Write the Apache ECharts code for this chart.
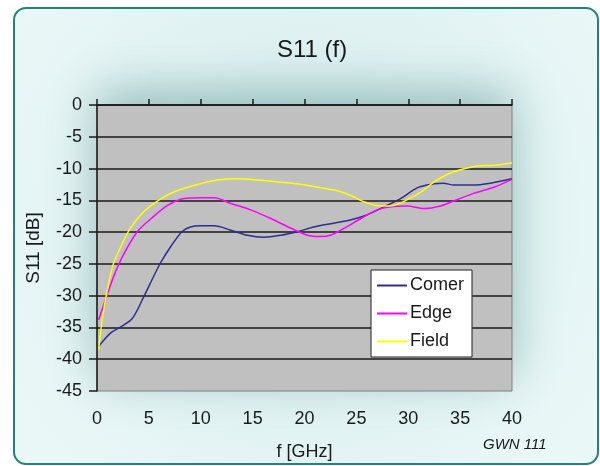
<!DOCTYPE html>
<html>
<head>
<meta charset="utf-8">
<script src="https://cdn.jsdelivr.net/npm/echarts@6/dist/echarts.min.js"></script>
<style>
html,body{margin:0;padding:0;background:#fff;}
#c{width:600px;height:466px;}
</style>
</head>
<body>
<div id="c"></div>
<script>
// ---- data ----
const seriesNames = ['Comer', 'Edge', 'Field'];
const xTicks = [0, 5, 10, 15, 20, 25, 30, 35, 40];
const yTicks = [0, -5, -10, -15, -20, -25, -30, -35, -40, -45];

const cornerF  = [0.15, 1.3, 2.3, 3.4, 4.5, 5.3, 6.1, 7.1, 8.2, 9.0, 10, 11.3, 12.9, 14.5, 16.1, 17.7, 19.4, 20.9, 22.8, 24.4, 26, 27.7, 29.3, 30.9, 32.5, 33.4, 34.4, 36.3, 37.9, 40];
const cornerDb = [-38, -35.9, -34.9, -33.6, -30.2, -27.5, -24.9, -22.3, -19.9, -19.2, -19.0, -19.0, -19.7, -20.5, -20.8, -20.5, -19.9, -19.2, -18.6, -18.1, -17.3, -16.0, -14.7, -13.0, -12.4, -12.3, -12.6, -12.6, -12.3, -11.6];

const edgeF  = [0.16, 0.8, 1.6, 2.6, 3.9, 5.2, 6.8, 8.4, 10, 11.3, 12.9, 14.8, 16.8, 18.7, 20.3, 21.5, 22.5, 23.8, 25.4, 27, 28.3, 29.9, 31.5, 33.1, 34.7, 36.3, 38.3, 40];
const edgeDb = [-33.8, -30.7, -27, -23.4, -19.9, -17.9, -15.8, -14.7, -14.6, -14.6, -15.5, -16.5, -17.9, -19.4, -20.5, -20.7, -20.5, -19.4, -17.9, -16.5, -16.0, -15.9, -16.3, -15.9, -14.9, -13.9, -12.9, -11.7];

const fieldF  = [0.16, 0.5, 1.0, 1.6, 2.3, 3.2, 4.5, 6.1, 7.7, 9.7, 11.6, 13.5, 15.5, 17.4, 19.7, 21.5, 23.2, 24.4, 25.7, 27.3, 28.6, 29.9, 31.2, 32.5, 33.8, 35, 36.7, 38.3, 40];
const fieldDb = [-38.5, -33.8, -29.1, -24.9, -22.3, -19.4, -16.8, -14.8, -13.5, -12.5, -11.8, -11.6, -11.8, -12.1, -12.5, -13.0, -13.5, -14.2, -15.2, -15.9, -15.8, -14.9, -13.7, -12.1, -10.9, -10.2, -9.6, -9.5, -9.1];

const seriesColors = ['#2e2e8e', '#ff00ff', '#ffff00'];
// ---------------------------------------

function pairs(xs, ys) { return xs.map((x, i) => [x, ys[i]]); }

const FONT = '"Liberation Sans", Arial, sans-serif';
const chart = echarts.init(document.getElementById('c'), null, {renderer: 'canvas'});

const G = {left: 97, top: 105, width: 415, height: 286};

const splitColors = yTicks.slice().reverse().map((v, i) => i === 0 ? 'rgba(0,0,0,0)' : '#1a1a1a');

chart.setOption({
  animation: false,
  backgroundColor: '#ffffff',
  graphic: [
    {
      type: 'rect', z: -10, silent: true,
      shape: {x: 14, y: 8, width: 584, height: 456, r: 12},
      style: {
        fill: new echarts.graphic.RadialGradient(0.5, 0.45, 0.75, [
          {offset: 0, color: '#d3ebeb'},
          {offset: 1, color: '#eaf7f7'}
        ]),
        stroke: '#22837c', lineWidth: 2
      }
    },
    {
      type: 'rect', z: -9, silent: true,
      shape: {x: G.left, y: G.top, width: G.width, height: G.height},
      style: {
        fill: '#c0c0c0',
        shadowBlur: 45, shadowColor: 'rgba(80,135,135,0.5)', shadowOffsetY: -14
      }
    },
    {
      type: 'text', z: 10, left: 483, top: 437,
      style: {text: 'GWN 111', font: 'italic 15px ' + FONT, fill: '#1a1a1a'}
    }
  ],
  title: {
    text: 'S11 (f)',
    left: 307, top: 33, textAlign: 'center',
    textStyle: {fontFamily: FONT, fontSize: 24, fontWeight: 'normal', color: '#1a1a1a'}
  },
  grid: {
    left: G.left, top: G.top, width: G.width, height: G.height,
    show: true, backgroundColor: '#c0c0c0', borderColor: '#808080', borderWidth: 1
  },
  legend: {
    data: seriesNames,
    orient: 'vertical',
    left: 371, top: 270,
    backgroundColor: '#ffffff',
    borderColor: '#222', borderWidth: 1,
    padding: [6, 8, 6, 6],
    icon: 'rect',
    itemWidth: 30, itemHeight: 2, itemGap: 9,
    textStyle: {fontFamily: FONT, fontSize: 18, color: '#1a1a1a', lineHeight: 19, padding: [0, 0, 0, -2]}
  },
  xAxis: [
    {
      type: 'value', position: 'top', min: 0, max: 40, interval: 5,
      axisLine: {show: true, onZero: false, lineStyle: {color: '#1a1a1a', width: 1.5}},
      axisTick: {show: true, length: 6, lineStyle: {color: '#1a1a1a', width: 1.5}},
      axisLabel: {show: false},
      splitLine: {show: false}
    },
    {
      type: 'value', position: 'bottom', min: 0, max: 40, interval: 5,
      name: 'f [GHz]', nameLocation: 'middle', nameGap: 52,
      nameTextStyle: {fontFamily: FONT, fontSize: 18, color: '#1a1a1a'},
      axisLine: {show: false}, axisTick: {show: false},
      axisLabel: {fontFamily: FONT, fontSize: 18, color: '#1a1a1a', margin: 19,
        formatter: v => xTicks.includes(v) ? String(v) : ''},
      splitLine: {show: false}
    }
  ],
  yAxis: {
    type: 'value', min: -45, max: 0, interval: 5,
    name: 'S11 [dB]', nameLocation: 'middle', nameGap: 54, nameRotate: 90,
    nameTextStyle: {fontFamily: FONT, fontSize: 19, color: '#1a1a1a'},
    axisLine: {show: true, onZero: false, lineStyle: {color: '#1a1a1a', width: 1.5}},
    axisTick: {show: true, length: 8, lineStyle: {color: '#1a1a1a', width: 1.5}},
    axisLabel: {fontFamily: FONT, fontSize: 18, color: '#1a1a1a', margin: 15,
      formatter: v => yTicks.includes(v) ? String(v) : ''},
    splitLine: {show: true, lineStyle: {color: splitColors, width: 1.5}}
  },
  series: [
    {name: seriesNames[0], type: 'line', xAxisIndex: 1, data: pairs(cornerF, cornerDb), smooth: 0.3,
      symbol: 'none', lineStyle: {color: seriesColors[0], width: 1.5}, itemStyle: {color: seriesColors[0]}},
    {name: seriesNames[1], type: 'line', xAxisIndex: 1, data: pairs(edgeF, edgeDb), smooth: 0.3,
      symbol: 'none', lineStyle: {color: seriesColors[1], width: 1.5}, itemStyle: {color: seriesColors[1]}},
    {name: seriesNames[2], type: 'line', xAxisIndex: 1, data: pairs(fieldF, fieldDb), smooth: 0.3,
      symbol: 'none', lineStyle: {color: seriesColors[2], width: 1.5}, itemStyle: {color: seriesColors[2]}}
  ]
});
</script>
</body>
</html>
